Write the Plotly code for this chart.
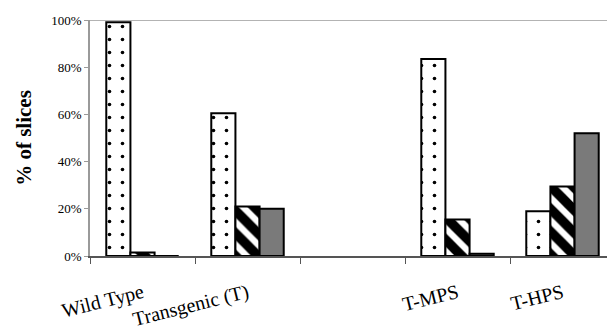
import plotly.graph_objects as go

categories = ["Wild Type", "Transgenic (T)", " ", "T-MPS", "T-HPS"]
dotted_vals = [99, 60.5, None, 83.5, 19]
striped_vals = [1.5, 21, None, 15.5, 29.5]
gray_vals = [0, 20, None, 1, 52]
y_ticks = [0, 20, 40, 60, 80, 100]
y_tick_labels = ["0%", "20%", "40%", "60%", "80%", "100%"]

fig = go.Figure()
fig.add_trace(go.Bar(
    x=categories, y=dotted_vals, name="dotted",
    marker=dict(color="white", line=dict(color="black", width=2),
                pattern=dict(shape=".", fgcolor="black", bgcolor="white",
                             size=13, solidity=0.06, fgopacity=1)),
))
fig.add_trace(go.Bar(
    x=categories, y=striped_vals, name="striped",
    marker=dict(color="white", line=dict(color="black", width=2),
                pattern=dict(shape="\\", fgcolor="black", bgcolor="white",
                             size=16, solidity=0.6, fgopacity=1)),
))
fig.add_trace(go.Bar(
    x=categories, y=gray_vals, name="gray",
    marker=dict(color="#7a7a7a", line=dict(color="black", width=2)),
))

# page body has an 8px margin, so the figure is offset accordingly
fig.update_layout(
    width=607, height=323,
    margin=dict(l=82, r=0, t=12, b=73),
    paper_bgcolor="white", plot_bgcolor="white",
    barmode="group", bargap=0.31, bargroupgap=0,
    showlegend=False,
    font=dict(family="Liberation Serif", color="black"),
    shapes=[dict(type="line", xref="paper", yref="y", x0=0, x1=1, y0=100, y1=100,
                 line=dict(color="#9a9a9a", width=1.5))],
)
fig.update_xaxes(
    type="category", categoryorder="array", categoryarray=categories,
    showline=True, linecolor="#555555", linewidth=1.5,
    ticks="outside", ticklen=6, tickcolor="#555555",
    tickson="boundaries", tickangle=-14, ticklabelstandoff=16,
    tickfont=dict(size=20, family="Liberation Serif", color="black"),
    showgrid=False, zeroline=False,
)
fig.update_yaxes(
    range=[0, 100], tickvals=y_ticks, ticktext=y_tick_labels,
    showline=True, linecolor="#9a9a9a", linewidth=1.5,
    ticks="outside", ticklen=4, tickcolor="#9a9a9a",
    tickfont=dict(size=13, family="Liberation Serif", color="black"),
    showgrid=False, zeroline=False,
    title=dict(text="<b>% of slices</b>", font=dict(size=21, family="Liberation Serif"), standoff=14),
)

fig.write_html("out.html")
